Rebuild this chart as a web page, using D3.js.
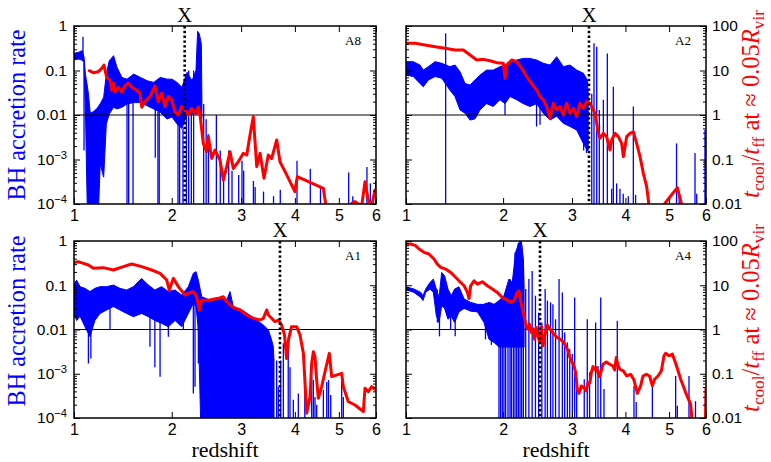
<!DOCTYPE html>
<html>
<head>
<meta charset="utf-8">
<script src="https://cdn.jsdelivr.net/npm/d3@7"></script>
<style>
  body { margin: 0; background: #fff; }
  svg { display: block; font-family: "Liberation Serif", "DejaVu Serif", serif; }
</style>
</head>
<body>
<svg id="chart" width="771" height="462"></svg>
<script>
// ---------------- data ----------------
const redshiftTicks = [1, 2, 3, 4, 5, 6];
const rateTicks = [1e-4, 1e-3, 0.01, 0.1, 1];
const ratioTicks = [0.01, 0.1, 1, 10, 100];
const haloNames = ["A8", "A2", "A1", "A4"];
const transitionZ = [2.165, 3.294, 3.70, 2.50];

// A8: cooling/free-fall ratio
const a8RatioZ = [1.131,1.167,1.212,1.244,1.265,1.274,1.291,1.322,1.339,1.354,1.371,1.404,1.437,1.471,1.505,1.541,1.594,1.630,1.649,1.685,1.741,1.799,1.837,1.878,1.917,1.958,2.000,2.041,2.083,2.127,2.169,2.213,2.259,2.304,2.350,2.374,2.419,2.468,2.491,2.541,2.590,2.665,2.716,2.768,2.820,2.873,2.954,3.037,3.095,3.151,3.208,3.268,3.327,3.399,3.478,3.541,3.637,3.700,3.833,4.000,4.050,4.626,4.744,5.240,5.329,5.416,5.596,5.688,5.780,5.876,5.970,6.000];
const a8Ratio = [9.9,8.9,9.4,11.2,13.3,10.3,7.0,6.1,3.6,5.2,3.3,4.2,3.3,4.5,5.2,4.2,3.6,3.1,1.5,2.0,2.6,4.5,2.0,3.1,1.54,2.6,2.2,1.19,1.0,1.54,1.3,1.0,1.42,1.09,1.5,1.0,0.23,0.15,0.33,0.106,0.163,0.0975,0.0346,0.069,0.15,0.063,0.089,0.138,0.126,0.356,0.92,0.069,0.138,0.038,0.126,0.106,0.274,0.089,0.045,0.0189,0.041,0.0225,0.004,0.004,0.0104,0.0113,0.009,0.0317,0.0123,0.009,0.0206,0.0206];
// A8: accretion rate envelope
const a8BandZ = [1.000,1.039,1.068,1.085,1.097,1.120,1.140,1.170,1.200,1.230,1.262,1.287,1.315,1.357,1.390,1.440,1.492,1.562,1.634,1.708,1.783,1.861,1.941,2.003,2.066,2.130,2.196,2.263,2.317,2.340,2.364,2.392,2.400];
const a8BandHi = [0.243,0.256,0.279,0.2,0.083,0.035,0.011,0.012,0.014,0.018,0.025,0.083,0.166,0.215,0.118,0.07,0.064,0.083,0.07,0.059,0.054,0.07,0.064,0.064,0.054,0.042,0.091,0.059,0.1,0.76,0.66,0.39,0.02];
const a8BandLo = [0.172,0.181,0.172,0.15,0.0126,1e-5,1e-5,1e-5,1e-5,7.9e-4,4e-4,6.3e-3,0.0105,0.0149,0.0137,0.0149,0.0177,0.019,0.019,0.0162,0.0137,0.0115,0.0081,0.009,0.0063,0.005,0.0105,0.0105,0.0105,0.0105,0.0149,0.008,0.008];
// A8: accretion bursts and drop-outs
const a8SpikeZ = [1.076,1.085,1.492,1.509,1.555,1.802,1.833,1.848,2.079,2.100,2.143,2.188,2.218,2.254,2.285,2.425,2.460,2.493,2.610,2.669,2.720,2.800,2.852,2.960,3.015,3.043,3.210,3.240,3.390,3.576,3.706,4.044,4.330,4.560,5.250,5.357,5.742,5.838,5.990];
const a8SpikeLo = [0.17,1.6e-3,1e-5,1e-5,1e-5,1.1e-3,1e-5,1e-5,1e-5,1e-5,1e-5,1e-5,1e-5,1e-5,1e-5,1e-5,1e-5,1e-5,1e-5,1e-5,1e-5,1e-5,1e-5,1e-5,1e-5,1e-5,1e-5,1e-5,1e-5,1e-5,1e-5,1e-5,1e-5,1e-5,1e-5,1e-5,1e-5,1e-5,1e-5];
const a8SpikeHi = [0.575,0.15,0.02,0.02,0.02,0.014,0.012,0.012,0.006,0.006,0.005,0.01,0.1,0.06,0.1,0.0177,0.008,3.7e-3,0.01,1.6e-3,3.3e-4,1.6e-3,5.6e-4,4.5e-4,9.4e-4,5.6e-4,3.3e-4,2.4e-4,1.9e-4,1.5e-4,2.1e-4,9.4e-4,6.2e-4,2.4e-4,5.1e-4,1.5e-4,6.8e-4,2.9e-4,3.3e-4];

// A2
const a2RatioZ = [1.000,1.077,1.165,1.258,1.354,1.454,1.541,1.613,1.687,1.763,1.840,1.920,2.003,2.024,2.045,2.109,2.175,2.242,2.310,2.380,2.452,2.500,2.549,2.599,2.649,2.700,2.752,2.805,2.858,2.912,2.967,3.023,3.079,3.136,3.194,3.253,3.312,3.404,3.465,3.497,3.560,3.623,3.688,3.721,3.787,3.854,3.922,3.957,4.026,4.096,4.168,4.240,4.314,4.388,4.464,4.502,4.540,4.817,4.899,5.210,5.368];
const a2Ratio = [40.8,40.8,37.4,34.3,31.5,28.9,28.9,22.3,17.2,17.8,16.6,15.0,14.5,6.7,13.3,17.2,15.8,11.2,7.3,5.1,3.6,2.58,2.2,1.54,0.84,1.83,1.3,1.54,1.0,1.83,1.09,1.41,0.92,1.83,1.41,2.0,1.83,1.09,0.387,0.30,0.387,0.326,0.163,0.274,0.387,0.326,0.231,0.116,0.326,0.387,0.42,0.231,0.116,0.049,0.0245,0.0123,0.006,0.006,0.0104,0.0233,0.007];
const a2BandZ = [1.000,1.062,1.120,1.150,1.195,1.258,1.322,1.403,1.454,1.506,1.559,1.613,1.668,1.724,1.800,1.879,1.960,2.024,2.088,2.175,2.264,2.355,2.451,2.549,2.649,2.752,2.858,2.967,3.079,3.194,3.264,3.280];
const a2BandHi = [0.158,0.158,0.133,0.102,0.122,0.158,0.145,0.122,0.133,0.094,0.051,0.047,0.061,0.079,0.102,0.102,0.122,0.133,0.158,0.172,0.187,0.187,0.172,0.145,0.133,0.204,0.122,0.133,0.102,0.087,0.061,0.03];
const a2BandLo = [0.079,0.073,0.051,0.043,0.061,0.073,0.067,0.036,0.026,0.013,0.011,0.0077,0.0082,0.013,0.018,0.0155,0.022,0.018,0.026,0.022,0.018,0.0155,0.018,0.011,0.0077,0.0094,0.0065,0.0055,0.0046,0.0023,0.0016,0.0016];
const a2SpikeZ = [1.360,2.024,2.450,2.500,3.200,3.250,3.344,3.385,3.435,3.483,3.560,3.636,3.721,3.754,3.820,3.887,3.955,4.060,4.168,4.217,5.190,5.260,5.686,5.733,5.970,6.000];
const a2SpikeLo = [1e-5,0.01,0.0055,0.006,0.0016,0.0014,1e-5,1e-5,1e-5,1e-5,1e-5,1e-5,1e-5,1e-5,1e-5,1e-5,1e-5,1e-5,1e-5,1e-5,1e-5,1e-5,1e-5,1e-5,1e-5,1e-5];
const a2SpikeHi = [0.685,0.13,0.1,0.1,0.05,0.05,0.03,0.41,0.34,0.013,0.022,0.24,2.2e-4,0.043,2.9e-4,2.2e-4,1.7e-4,1.5e-4,0.0155,1.6e-4,2.3e-3,1.5e-4,1.4e-3,1.7e-4,4.6e-3,3.3e-3];

// A1
const a1RatioZ = [1.000,1.036,1.079,1.123,1.167,1.259,1.355,1.454,1.540,1.648,1.760,1.858,1.938,1.970,2.020,2.083,2.169,2.214,2.281,2.327,2.364,2.397,2.492,2.639,2.716,2.768,2.873,2.982,3.093,3.209,3.326,3.387,3.448,3.479,3.605,3.668,3.733,3.790,3.830,3.870,3.930,4.037,4.107,4.179,4.251,4.324,4.361,4.398,4.435,4.473,4.510,4.588,4.665,4.768,4.824,5.071,5.113,5.241,5.416,5.642,5.688,5.781,5.876,6.000];
const a1Ratio = [32.4,34.1,31.3,28.7,24.1,25.0,22.1,26.3,30.2,26.3,22.1,18.6,13.1,7.8,14.3,9.3,6.0,6.6,7.2,5.5,2.76,4.6,4.6,5.06,5.5,4.26,3.17,2.76,2.13,1.79,1.64,1.79,2.76,2.13,1.5,1.64,1.26,0.75,0.22,0.6,1.16,1.16,0.75,0.289,0.0128,0.030,0.172,0.316,0.243,0.072,0.028,0.051,0.111,0.289,0.086,0.102,0.051,0.0234,0.0197,0.0139,0.047,0.0394,0.051,0.043];
const a1BandZ = [1.000,1.022,1.051,1.093,1.137,1.181,1.228,1.290,1.355,1.420,1.488,1.558,1.648,1.722,1.797,1.875,1.958,2.041,2.126,2.214,2.281,2.318,2.350,2.397,2.517,2.665,2.768,2.820,2.873,3.008,3.151,3.267,3.387,3.479,3.540,3.572,3.585];
const a1BandHi = [0.11,0.13,0.093,0.085,0.072,0.085,0.093,0.093,0.101,0.085,0.078,0.093,0.143,0.101,0.078,0.093,0.072,0.078,0.06,0.093,0.186,0.203,0.13,0.055,0.046,0.05,0.046,0.072,0.033,0.028,0.021,0.0163,0.0126,0.0098,0.0058,0.0041,0.002];
const a1BandLo = [0.023,0.016,0.02,0.0115,0.0069,0.016,0.023,0.0275,0.033,0.0275,0.023,0.0195,0.023,0.0195,0.016,0.0138,0.0115,0.016,0.0115,0.023,0.039,0.033,0.01,1e-5,1e-5,1e-5,1e-5,1e-5,1e-5,1e-5,1e-5,1e-5,1e-5,1e-5,1e-5,1e-5,1e-5];
const a1SpikeZ = [1.123,1.145,1.322,1.741,1.797,1.858,1.958,2.148,2.281,2.304,2.350,3.636,3.668,3.714,3.766,3.864,3.900,3.968,4.072,4.210,4.361,4.398,4.435,4.473,4.627,4.706,4.747,4.801,5.071,5.113];
const a1SpikeLo = [1.7e-3,2.2e-3,0.0098,4.1e-3,1.4e-3,8.6e-4,6.9e-3,0.0098,3.6e-4,5.1e-4,1.7e-3,1e-5,1e-5,1e-5,1e-5,1e-5,1e-5,1e-5,1e-5,1e-5,1e-5,1e-5,1e-5,1e-5,1e-5,1e-5,1e-5,1e-5,1e-5,1e-5];
const a1SpikeHi = [0.05,0.05,0.05,0.05,0.05,0.05,0.05,0.05,0.1,0.1,0.1,2e-3,5.1e-4,2e-3,4.9e-3,4.1e-3,1.4e-3,2.6e-4,3.6e-4,1.2e-3,8.6e-4,7.2e-4,3e-4,2e-4,4.3e-4,6.5e-4,7.2e-4,3.3e-4,9.4e-4,3e-4];

// A4
const a4RatioZ = [1.000,1.039,1.082,1.112,1.156,1.201,1.248,1.279,1.312,1.360,1.410,1.444,1.495,1.549,1.585,1.602,1.620,1.657,1.695,1.751,1.809,1.868,1.928,1.990,2.054,2.097,2.140,2.184,2.206,2.237,2.273,2.305,2.328,2.351,2.375,2.398,2.422,2.446,2.471,2.495,2.520,2.544,2.569,2.609,2.658,2.709,2.760,2.812,2.866,2.924,2.976,3.034,3.062,3.090,3.119,3.159,3.217,3.246,3.276,3.312,3.336,3.366,3.397,3.428,3.459,3.490,3.553,3.617,3.682,3.747,3.780,3.813,3.847,3.887,3.955,4.026,4.110,4.182,4.255,4.328,4.380,4.456,4.531,4.595,4.648,4.729,4.809,4.874,4.915,4.999,5.083,5.167,5.298,5.430,5.566,5.620,5.980,6.000];
const a4Ratio = [85.5,85.5,78.4,65.9,55.4,50.8,39.1,30.1,25.4,23.2,19.5,16.4,12.6,9.75,6.9,5.0,9.75,12.6,10.6,12.0,9.75,8.2,6.9,5.3,4.6,4.1,4.5,6.9,7.5,3.75,2.04,1.17,1.02,1.32,0.855,1.05,0.60,1.11,0.72,0.51,1.17,0.427,0.72,1.25,0.98,0.78,0.66,0.60,0.51,0.36,0.213,0.15,0.106,0.0446,0.036,0.053,0.047,0.041,0.063,0.063,0.106,0.145,0.126,0.138,0.106,0.086,0.164,0.185,0.164,0.15,0.122,0.232,0.156,0.126,0.116,0.089,0.097,0.072,0.036,0.053,0.089,0.097,0.089,0.053,0.075,0.089,0.116,0.254,0.291,0.254,0.277,0.173,0.075,0.0375,0.0204,0.006,0.006,0.048];
const a4BandZ = [1.000,1.068,1.127,1.147,1.171,1.211,1.242,1.270,1.296,1.321,1.350,1.383,1.416,1.450,1.495,1.549,1.620,1.695,1.770,1.829,1.888,1.949,2.011,2.074,2.117,2.161,2.206,2.237,2.265,2.275];
const a4BandHi = [0.092,0.082,0.069,0.058,0.082,0.116,0.138,0.082,0.053,0.195,0.164,0.082,0.058,0.082,0.092,0.049,0.041,0.037,0.037,0.041,0.037,0.045,0.058,0.138,0.116,0.55,0.93,1.0,0.39,0.1];
const a4BandLo = [0.079,0.069,0.053,0.045,0.069,0.082,0.069,0.0204,0.0144,0.0345,0.03,0.017,0.02,0.0144,0.025,0.03,0.026,0.025,0.0144,0.006,0.0051,0.004,0.004,0.004,0.004,0.004,0.004,0.004,0.004,0.004];
const a4SpikeZ = [1.280,1.300,1.410,1.456,1.787,1.857,1.949,1.969,1.990,2.011,2.032,2.062,2.088,2.105,2.131,2.153,2.175,2.197,2.220,2.242,2.265,2.297,2.341,2.387,2.434,2.480,2.527,2.576,2.610,2.658,2.694,2.735,2.790,2.842,2.880,2.924,2.962,3.006,3.045,3.079,3.210,3.264,3.305,3.415,3.459,3.510,3.572,3.833,4.182,4.230,4.595,5.167,5.210,5.520,5.700,5.995];
const a4SpikeLo = [0.0144,0.007,0.01,0.007,0.006,0.0045,1e-5,1e-5,1e-5,1e-5,1e-5,1e-5,1e-5,1e-5,1e-5,1e-5,1e-5,1e-5,1e-5,1e-5,1e-5,1e-5,1e-5,1e-5,1e-5,1e-5,1e-5,1e-5,1e-5,1e-5,1e-5,1e-5,1e-5,1e-5,1e-5,1e-5,1e-5,1e-5,1e-5,1e-5,1e-5,1e-5,1e-5,1e-5,1e-5,1e-5,1e-5,1e-5,1e-5,1e-5,1e-5,1e-5,1e-5,1e-5,1e-5,1e-5];
const a4SpikeHi = [0.08,0.05,0.06,0.08,0.04,0.04,0.04,0.04,0.035,0.05,0.06,0.08,0.138,0.1,0.116,0.55,0.6,0.9,1.0,0.8,0.39,0.082,0.138,0.21,0.058,0.024,0.0144,0.082,0.045,0.041,0.037,0.017,0.138,0.069,8.5e-3,5.1e-3,3.6e-3,2.8e-3,0.053,7.5e-4,7.5e-4,0.017,1.07e-3,0.0144,1.5e-3,0.053,4.5e-4,0.0157,5.3e-4,2.3e-4,5.3e-4,8.9e-4,1.9e-4,8.9e-4,2.4e-4,2e-4];

// ---------------- drawing ----------------
const svg = d3.select("#chart");
const BLUE = "#0000ff", RED = "#ff0000";

const frames = [
  { left: 74,  right: 376, top: 26,  bottom: 204, col: 0 },
  { left: 406, right: 706, top: 26,  bottom: 204, col: 1 },
  { left: 74,  right: 376, top: 241, bottom: 418, col: 0 },
  { left: 406, right: 706, top: 241, bottom: 418, col: 1 }
];

const halos = [
  { rz: a8RatioZ, r: a8Ratio, bz: a8BandZ, bh: a8BandHi, bl: a8BandLo, sz: a8SpikeZ, sl: a8SpikeLo, sh: a8SpikeHi },
  { rz: a2RatioZ, r: a2Ratio, bz: a2BandZ, bh: a2BandHi, bl: a2BandLo, sz: a2SpikeZ, sl: a2SpikeLo, sh: a2SpikeHi },
  { rz: a1RatioZ, r: a1Ratio, bz: a1BandZ, bh: a1BandHi, bl: a1BandLo, sz: a1SpikeZ, sl: a1SpikeLo, sh: a1SpikeHi },
  { rz: a4RatioZ, r: a4Ratio, bz: a4BandZ, bh: a4BandHi, bl: a4BandLo, sz: a4SpikeZ, sl: a4SpikeLo, sh: a4SpikeHi }
];

// small rates are written as powers of ten
function powerLabel(sel) {
  sel.each(function (d) {
    if (d < 0.01) {
      const t = d3.select(this);
      t.text(null);
      t.append("tspan").text("10");
      t.append("tspan").attr("dy", "-0.55em").attr("font-size", "0.72em")
        .text("\u2212" + Math.round(-Math.log10(d)));
    }
  });
}
function plainNumber(d) { return d >= 1 ? d3.format("d")(d) : String(+d.toPrecision(1)); }

const defs = svg.append("defs");

halos.forEach((h, i) => {
  const F = frames[i];
  // redshift axis is logarithmic in (1 + z)
  const onePlusZ = d3.scaleLog().domain([1 + redshiftTicks[0], 1 + redshiftTicks[redshiftTicks.length - 1]]).range([F.left, F.right]);
  const x = z => onePlusZ(1 + z);
  const yRate = d3.scaleLog().domain([rateTicks[0], rateTicks[rateTicks.length - 1]]).range([F.bottom, F.top]);
  const yRatio = d3.scaleLog().domain([ratioTicks[0], ratioTicks[ratioTicks.length - 1]]).range([F.bottom, F.top]);

  const clipId = "clip" + i;
  defs.append("clipPath").attr("id", clipId).append("rect")
    .attr("x", F.left).attr("y", F.top).attr("width", F.right - F.left).attr("height", F.bottom - F.top);

  const plot = svg.append("g").attr("clip-path", `url(#${clipId})`);

  // accretion rate envelope
  const band = h.bz.map((z, k) => ({ z, hi: h.bh[k], lo: h.bl[k] }));
  plot.append("path").datum(band)
    .attr("d", d3.area().x(d => x(d.z)).y0(d => yRate(d.lo)).y1(d => yRate(d.hi)))
    .attr("fill", BLUE).attr("stroke", BLUE).attr("stroke-width", 1);

  // individual bursts / drops
  const spikes = h.sz.map((z, k) => ({ z, lo: h.sl[k], hi: h.sh[k] }));
  plot.selectAll("line.spike").data(spikes).join("line").attr("class", "spike")
    .attr("x1", d => x(d.z)).attr("x2", d => x(d.z))
    .attr("y1", d => yRate(d.lo)).attr("y2", d => yRate(d.hi))
    .attr("stroke", BLUE).attr("stroke-width", 1.3);

  // reference level
  plot.append("line")
    .attr("x1", F.left).attr("x2", F.right)
    .attr("y1", yRatio(1)).attr("y2", yRatio(1))
    .attr("stroke", "#000").attr("stroke-width", 1);

  // cooling time over free-fall time
  const ratio = h.rz.map((z, k) => ({ z, v: h.r[k] }));
  plot.append("path").datum(ratio)
    .attr("d", d3.line().x(d => x(d.z)).y(d => yRatio(d.v)))
    .attr("fill", "none").attr("stroke", RED).attr("stroke-width", 3)
    .attr("stroke-linejoin", "round").attr("stroke-linecap", "round");

  // transition marker
  const xm = x(transitionZ[i]);
  svg.append("line")
    .attr("x1", xm).attr("x2", xm).attr("y1", F.top).attr("y2", F.bottom)
    .attr("stroke", "#000").attr("stroke-width", 2.6).attr("stroke-dasharray", "2.4,2.4");
  svg.append("text").attr("x", xm).attr("y", F.top - 4)
    .attr("text-anchor", "middle").attr("font-size", 21).text("X");

  // axes
  const styleAxis = g => {
    g.select(".domain").remove();
    g.selectAll(".tick line").attr("stroke", "#000").attr("stroke-width", 1);
    g.selectAll(".tick text").attr("fill", "#000").attr("font-family", null);
  };

  svg.append("g").attr("transform", `translate(0,${F.bottom})`)
    .call(d3.axisBottom(onePlusZ).tickValues(redshiftTicks.map(z => 1 + z)).tickFormat(v => Math.round(v - 1)).tickSize(-6).tickPadding(6))
    .call(styleAxis)
    .call(g => g.selectAll(".tick text").attr("font-size", 16));
  svg.append("g").attr("transform", `translate(0,${F.top})`)
    .call(d3.axisTop(onePlusZ).tickValues(redshiftTicks.map(z => 1 + z)).tickFormat("").tickSize(-6))
    .call(styleAxis);

  const rateMinor = yRate.ticks().filter(v => Math.abs(Math.log10(v) - Math.round(Math.log10(v))) > 1e-6);
  const ratioMinor = yRatio.ticks().filter(v => Math.abs(Math.log10(v) - Math.round(Math.log10(v))) > 1e-6);

  const leftAxis = svg.append("g").attr("transform", `translate(${F.left},0)`)
    .call(d3.axisLeft(yRate).tickValues(rateTicks).tickSize(-6).tickPadding(7)
      .tickFormat(F.col === 0 ? plainNumber : ""))
    .call(styleAxis);
  if (F.col === 0) leftAxis.selectAll(".tick text").attr("font-size", 15.5).call(powerLabel);
  svg.append("g").attr("transform", `translate(${F.left},0)`)
    .call(d3.axisLeft(yRate).tickValues(rateMinor).tickSize(-3).tickFormat(""))
    .call(styleAxis);

  svg.append("g").attr("transform", `translate(${F.right},0)`)
    .call(d3.axisRight(yRatio).tickValues(ratioTicks).tickSize(-6).tickPadding(6)
      .tickFormat(F.col === 1 ? plainNumber : ""))
    .call(styleAxis)
    .call(g => g.selectAll(".tick text").attr("font-size", 15.5));
  svg.append("g").attr("transform", `translate(${F.right},0)`)
    .call(d3.axisRight(yRatio).tickValues(ratioMinor).tickSize(-3).tickFormat(""))
    .call(styleAxis);

  // frame
  svg.append("rect")
    .attr("x", F.left).attr("y", F.top).attr("width", F.right - F.left).attr("height", F.bottom - F.top)
    .attr("fill", "none").attr("stroke", "#000").attr("stroke-width", 1.5);

  // halo name
  svg.append("text").attr("x", F.right - 15).attr("y", F.top + 19)
    .attr("text-anchor", "end").attr("font-size", 13).text(haloNames[i]);
});

// axis titles
function fitLength(sel, target) {
  const len = sel.node().getComputedTextLength();
  const fs = parseFloat(sel.attr("font-size"));
  sel.attr("font-size", fs * target / len);
}

[225, 556].forEach(cx => {
  svg.append("text").attr("x", cx).attr("y", 457)
    .attr("text-anchor", "middle").attr("font-size", 22).text("redshift");
});

[115, 321].forEach(cy => {
  const t = svg.append("text")
    .attr("transform", `translate(25,${cy}) rotate(-90)`)
    .attr("text-anchor", "middle").attr("font-size", 22).attr("fill", BLUE)
    .text("BH accretion rate");
  fitLength(t, 171);
});

[104, 318].forEach(cy => {
  const t = svg.append("text")
    .attr("transform", `translate(759,${cy}) rotate(-90)`)
    .attr("text-anchor", "middle").attr("font-size", 22).attr("fill", RED);
  t.append("tspan").attr("font-style", "italic").text("t");
  t.append("tspan").attr("font-size", "0.7em").attr("dy", "0.28em").text("cool");
  t.append("tspan").attr("dy", "-0.2em").text("/");
  t.append("tspan").attr("font-style", "italic").text("t");
  t.append("tspan").attr("font-size", "0.7em").attr("dy", "0.28em").text("ff");
  t.append("tspan").attr("dy", "-0.2em").text("\u00a0at\u00a0\u2248\u00a00.05");
  t.append("tspan").attr("font-style", "italic").text("R");
  t.append("tspan").attr("font-size", "0.7em").attr("dy", "0.28em").text("vir");
  fitLength(t, 188);
});
</script>
</body>
</html>
